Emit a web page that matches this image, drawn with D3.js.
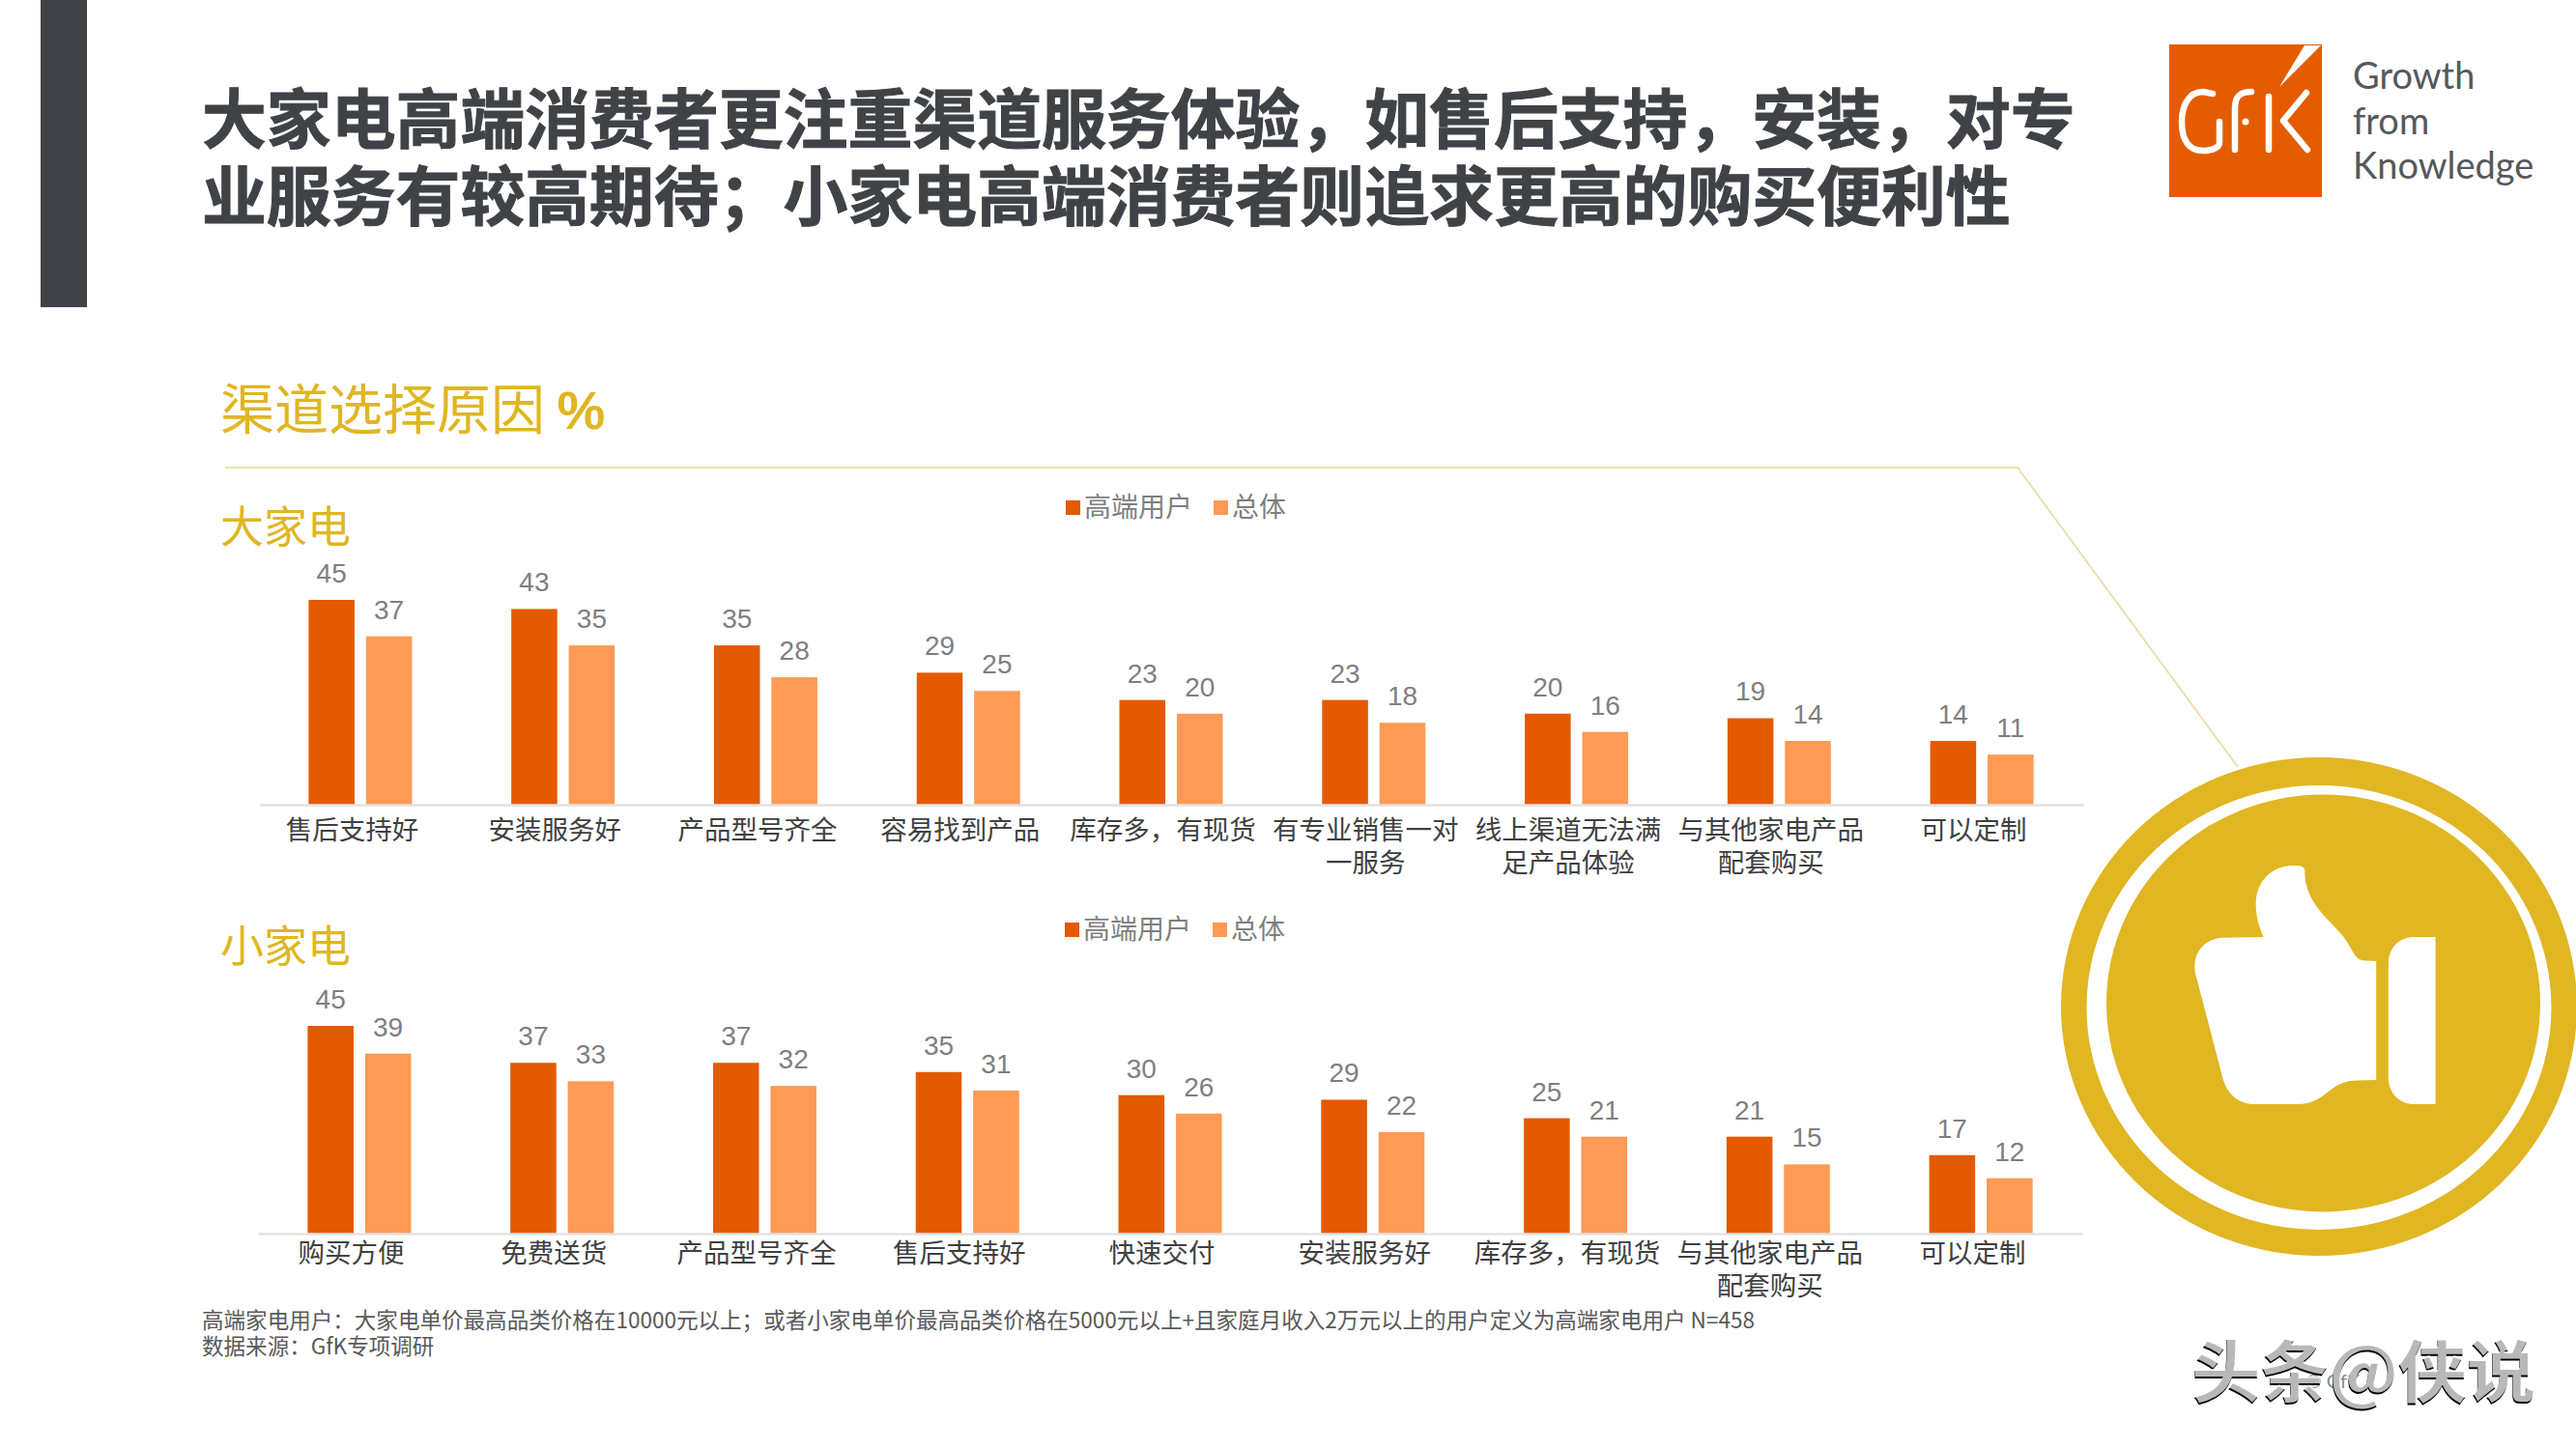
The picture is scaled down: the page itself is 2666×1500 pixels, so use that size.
<!DOCTYPE html>
<html lang="zh-CN">
<head>
<meta charset="utf-8">
<script src="https://cdn.jsdelivr.net/npm/d3@7"></script>
<style>
  html, body { margin: 0; padding: 0; background: #fff; }
  svg { display: block; }
  text { font-family: "Noto Sans CJK SC", "Liberation Sans", sans-serif; }
</style>
</head>
<body>
<svg></svg>
<script>
const width = 2666;
const height = 1500;

const seriesNames = ['高端用户', '总体'];
const seriesColors = ['#e35a00', '#fd9a55'];

const bigCategories = ['售后支持好', '安装服务好', '产品型号齐全', '容易找到产品', '库存多，有现货', '有专业销售一对\n一服务', '线上渠道无法满\n足产品体验', '与其他家电产品\n配套购买', '可以定制'];
const bigHigh = [45, 43, 35, 29, 23, 23, 20, 19, 14];
const bigAll = [37, 35, 28, 25, 20, 18, 16, 14, 11];

const smallCategories = ['购买方便', '免费送货', '产品型号齐全', '售后支持好', '快速交付', '安装服务好', '库存多，有现货', '与其他家电产品\n配套购买', '可以定制'];
const smallHigh = [45, 37, 37, 35, 30, 29, 25, 21, 17];
const smallAll = [39, 33, 32, 31, 26, 22, 21, 15, 12];

const titleLines = ['大家电高端消费者更注重渠道服务体验，如售后支持，安装，对专', '业服务有较高期待；小家电高端消费者则追求更高的购买便利性'];
const noteLines = ['高端家电用户：大家电单价最高品类价格在10000元以上；或者小家电单价最高品类价格在5000元以上+且家庭月收入2万元以上的用户定义为高端家电用户 N=458', '数据来源：GfK专项调研'];
const logoWords = ['Growth', 'from', 'Knowledge'];

const gold = '#e0b622';
const dark = '#3f4347';

const svg = d3.select('svg')
    .attr('width', width)
    .attr('height', height)
    .attr('viewBox', `0 0 ${width} ${height}`);

// slide frame
svg.append('rect')
    .attr('x', 42).attr('y', 0)
    .attr('width', 48).attr('height', 318)
    .attr('fill', dark);

svg.selectAll('.title')
    .data(titleLines)
    .enter()
    .append('text')
        .attr('class', 'title')
        .attr('x', 209)
        .attr('y', (d, i) => 148 + i * 80)
        .attr('font-size', 66.85)
        .attr('font-weight', 700)
        .attr('fill', dark)
        .attr('stroke', dark)
        .attr('stroke-width', 1)
        .text(d => d);

svg.append('text')
    .attr('x', 228)
    .attr('y', 444)
    .attr('font-size', 56)
    .attr('fill', gold)
    .text('渠道选择原因 ')
    .append('tspan')
        .attr('font-family', '"Liberation Sans"')
        .attr('font-weight', 700)
        .text('%');

svg.append('path')
    .attr('d', 'M233,484 H2088 L2316,794')
    .attr('fill', 'none')
    .attr('stroke', '#ebe0ab')
    .attr('stroke-width', 2);

// thumbs up badge
svg.append('ellipse')
    .attr('cx', 2400).attr('cy', 1042)
    .attr('rx', 267).attr('ry', 258)
    .attr('fill', gold);
svg.append('ellipse')
    .attr('cx', 2400).attr('cy', 1043)
    .attr('rx', 240.5).attr('ry', 230)
    .attr('fill', '#fff');
svg.append('ellipse')
    .attr('cx', 2404.5).attr('cy', 1038.5)
    .attr('rx', 224.5).attr('ry', 216)
    .attr('fill', gold);

const thumb = svg.append('g')
    .attr('transform', 'translate(2100,760) scale(0.361,0.357)')
    .attr('fill', '#fff');
thumb.append('path')
    .attr('d', 'M672,588 L555,590 C500,592 465,640 477,695 L552,985 C565,1045 600,1073 650,1073 L770,1073 C810,1073 835,1055 860,1035 C885,1015 905,1005 940,1004 L995,1003 L995,658 L955,656 C930,650 925,615 895,580 C870,550 835,520 815,485 C795,450 790,425 790,392 C785,380 770,380 745,382 C690,388 650,430 650,495 C650,530 660,560 672,588 Z');
thumb.append('path')
    .attr('d', 'M1165,588 L1100,588 C1060,590 1030,620 1030,665 L1030,995 C1030,1040 1060,1073 1105,1073 L1165,1073 Z');

// logo
svg.append('rect')
    .attr('x', 2245).attr('y', 46)
    .attr('width', 158).attr('height', 158)
    .attr('fill', '#e55c00');
svg.append('path')
    .attr('d', 'M2385,47 L2402,47 L2359,90 Z')
    .attr('fill', '#fff');
svg.append('path')
    .attr('d', 'M2290,97 L2280,95 C2265,95 2258,110 2258,126 C2258,145 2265,156 2280,156 C2290,156 2297,152 2297,148 L2297,126 M2313,155 L2313,112 C2313,100 2318,95 2330,95 M2348,155 L2348,100 M2387,96 L2363,125 L2388,155')
    .attr('fill', 'none')
    .attr('stroke', '#fff')
    .attr('stroke-width', 6.5)
    .attr('stroke-linecap', 'round')
    .attr('stroke-linejoin', 'round');
svg.append('circle')
    .attr('cx', 2324).attr('cy', 126).attr('r', 3.5)
    .attr('fill', '#fff');

svg.selectAll('.logo-word')
    .data(logoWords)
    .enter()
    .append('text')
        .attr('class', 'logo-word')
        .attr('x', 2435)
        .attr('y', (d, i) => 92 + i * 46.5)
        .attr('font-size', 38)
        .style('font-family', 'Lato')
        .attr('fill', '#55585b')
        .text(d => d);

function drawChart(opts) {
    const { name, nameY, legendY, shift, labelY, categories, high, all, baseline, top45 } = opts;
    const rows = categories.map((c, i) => ({ category: c, values: [high[i], all[i]] }));

    const xScale = d3.scaleBand()
        .domain(categories)
        .range([268 + shift, 2156 + shift]);
    const subScale = d3.scaleBand()
        .domain([0, 1])
        .range([xScale.bandwidth() / 2 - 53.5, xScale.bandwidth() / 2 + 53.5])
        .paddingInner(0.2);
    const yScale = d3.scaleLinear()
        .domain([0, 45])
        .range([baseline, top45]);

    svg.append('text')
        .attr('x', 228)
        .attr('y', nameY)
        .attr('font-size', 45)
        .attr('fill', gold)
        .text(name);

    const legend = svg.append('g')
        .attr('transform', `translate(${shift}, ${legendY})`);
    const legendX = [1103, 1256];
    seriesNames.forEach((s, i) => {
        legend.append('rect')
            .attr('x', legendX[i])
            .attr('y', -7)
            .attr('width', 15)
            .attr('height', 15)
            .attr('fill', seriesColors[i]);
        legend.append('text')
            .attr('x', legendX[i] + 19)
            .attr('y', 10)
            .attr('font-size', 28)
            .attr('fill', '#7f7f7f')
            .text(s);
    });

    const groups = svg.selectAll(`.group-${name}`)
        .data(rows)
        .enter()
        .append('g')
            .attr('class', `group-${name}`)
            .attr('transform', d => `translate(${xScale(d.category)}, 0)`);

    groups.selectAll('rect')
        .data(d => d.values)
        .enter()
        .append('rect')
            .attr('x', (d, i) => subScale(i))
            .attr('y', d => yScale(d))
            .attr('width', subScale.bandwidth())
            .attr('height', d => baseline - yScale(d))
            .attr('fill', (d, i) => seriesColors[i]);

    groups.selectAll('text')
        .data(d => d.values)
        .enter()
        .append('text')
            .attr('x', (d, i) => subScale(i) + subScale.bandwidth() / 2)
            .attr('y', d => yScale(d) - 18)
            .attr('text-anchor', 'middle')
            .attr('font-size', 28)
            .style('font-family', '"Liberation Sans"')
            .attr('fill', '#7f7f7f')
            .text(d => d);

    const xAxis = d3.axisBottom(xScale)
        .tickSize(0)
        .tickSizeOuter(0)
        .tickFormat('');

    const axisG = svg.append('g')
        .attr('transform', `translate(0, ${baseline})`)
        .call(xAxis);
    axisG.select('.domain')
        .attr('stroke', '#e2e2e2')
        .attr('stroke-width', 2.5);

    axisG.selectAll('.tick text')
        .attr('y', 0)
        .attr('dy', 0)
        .attr('font-size', 27.5)
        .attr('fill', '#404040')
        .each(function (d) {
            const label = d3.select(this);
            d.split('\n').forEach((line, i) => {
                label.append('tspan')
                    .attr('x', -8.5)
                    .attr('y', labelY + i * 34)
                    .text(line);
            });
        });
}

drawChart({
    name: '大家电', nameY: 562, legendY: 525, shift: 0, labelY: 36,
    categories: bigCategories, high: bigHigh, all: bigAll,
    baseline: 833, top45: 621
});
drawChart({
    name: '小家电', nameY: 996, legendY: 962, shift: -1, labelY: 30,
    categories: smallCategories, high: smallHigh, all: smallAll,
    baseline: 1277, top45: 1062
});

svg.selectAll('.note')
    .data(noteLines)
    .enter()
    .append('text')
        .attr('class', 'note')
        .attr('x', 209)
        .attr('y', (d, i) => 1375 + i * 27)
        .attr('font-size', 22.56)
        .attr('fill', '#595959')
        .text(d => d);

svg.append('text')
    .attr('x', 2386)
    .attr('y', 1437)
    .attr('font-size', 20)
    .style('font-family', 'Lato')
    .attr('fill', '#888')
    .text('© GfK');

// watermark is a dark shadow under a white copy, shifted a little
const mark = svg.append('g')
    .attr('font-size', 71)
    .attr('font-weight', 700);
mark.append('text')
    .attr('x', 2268).attr('y', 1447)
    .attr('fill', '#000')
    .text('头条@侠说');
mark.append('text')
    .attr('x', 2268.5).attr('y', 1445)
    .attr('fill', '#fff')
    .attr('fill-opacity', 0.72)
    .text('头条@侠说');
</script>
</body>
</html>
